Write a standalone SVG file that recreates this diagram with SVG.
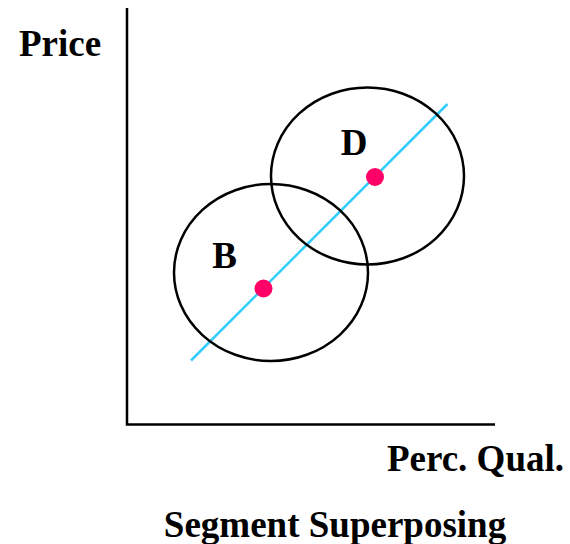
<svg xmlns="http://www.w3.org/2000/svg" width="570" height="544" viewBox="0 0 570 544">
<style>
.t{font-family:"Liberation Serif","Times New Roman",serif;font-weight:bold;font-size:37px;fill:#000}
.seg{fill:none;stroke:#000;stroke-width:2.5}
.dot{fill:#FF0066}
</style>
<rect width="570" height="544" fill="#fff"/>
<g id="axes">
<polyline points="127,8 127,424.5 495,424.5" fill="none" stroke="#000" stroke-width="2.5"/>
</g>
<g id="connectors">
<line x1="191" y1="360.5" x2="447.5" y2="104" stroke="#33CCFF" stroke-width="2.5"/>
</g>
<g id="segment-D">
<ellipse class="seg" cx="367.5" cy="176" rx="96.5" ry="88.5"/>
<circle class="dot" cx="375" cy="177" r="9"/>
<text class="t" x="354" y="154.5" text-anchor="middle">D</text>
</g>
<g id="segment-B">
<ellipse class="seg" cx="271" cy="272.5" rx="97" ry="88.5"/>
<circle class="dot" cx="263.5" cy="288.5" r="9"/>
<text class="t" x="224.5" y="267.5" text-anchor="middle">B</text>
</g>
<text class="t" x="19" y="56">Price</text>
<text class="t" x="564" y="471" text-anchor="end">Perc. Qual.</text>
<text class="t" x="335" y="537" text-anchor="middle">Segment Superposing</text>
</svg>
